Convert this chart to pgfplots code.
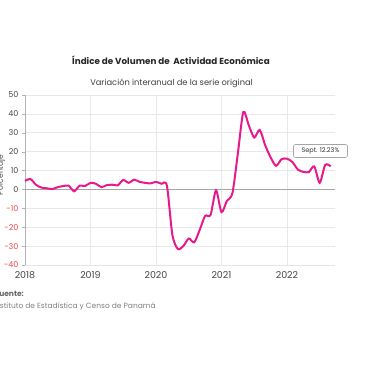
\documentclass[border=0pt]{standalone}
\usepackage{pgfplots}
\pgfplotsset{compat=1.18}
\usepackage{fontspec}
\setmainfont{Poppins}
\definecolor{linec}{RGB}{230,26,140}
\definecolor{negred}{RGB}{240,70,70}
\definecolor{tickc}{RGB}{70,70,70}
\begin{document}
\begin{tikzpicture}[x=1pt,y=1pt]
\begin{axis}[
  at={(25pt,115pt)}, anchor=south west,
  scale only axis, width=310pt, height=170pt,
  xmin=0, xmax=56.8, ymin=-40, ymax=50,
  axis lines*=left,
  x axis line style={draw=gray!20},
  y axis line style={draw=gray!60},
  xtick={0,12,24,36,48},
  xticklabels={2018,2019,2020,2021,2022},
  ytick={-40,-30,-20,-10,0,10,20,30,40,50},
  yticklabels={{\color{negred}-40},{\color{negred}-30},{\color{negred}-20},{\color{negred}-10},0,10,20,30,40,50},
  xmajorgrids, ymajorgrids,
  major grid style={draw=gray!18, line width=0.6pt},
  x tick style={draw=none},
  y tick style={draw=gray!60},
  tick align=outside, major tick length=3pt,
  xticklabel style={font=\fontsize{9.5}{10}\selectfont, text=tickc},
  yticklabel style={font=\fontsize{8}{9}\selectfont, text=tickc},
  clip=false,
]
\addplot[draw=gray!70, line width=0.7pt, forget plot] coordinates {(0,0) (56.8,0)};
\addplot[linec, line width=2pt, smooth, tension=0.45] table {
m v
0 4.5
1 5.5
2 2.5
3 1.0
4 0.6
5 0.2
6 1.2
7 1.8
8 2.0
9 -1.0
10 2.0
11 1.8
12 3.5
13 3.0
14 1.2
15 2.3
16 2.5
17 2.2
18 5.0
19 3.5
20 5.2
21 4.0
22 3.5
23 3.2
24 4.0
25 3.0
26 2.0
27 -24.0
28 -31.5
29 -30.0
30 -26.0
31 -28.0
32 -21.5
33 -14.0
34 -13.5
35 -0.5
36 -12.0
37 -6.0
38 -2.0
39 19.0
40 41.0
41 34.0
42 27.5
43 31.5
44 23.5
45 17.0
46 12.5
47 16.0
48 16.3
49 14.5
50 10.5
51 9.3
52 9.2
53 12.2
54 3.5
55 13.0
56 12.23
};
\end{axis}
\node[font=\bfseries\fontsize{8.8}{10}\selectfont, text=black!85] at (171,320) {Índice de Volumen de\ \ Actividad Económica};
\node[font=\fontsize{8.3}{10}\selectfont, text=black!75] at (171.5,297) {Variación interanual de la serie original};
\node[rotate=90, font=\fontsize{7.5}{8}\selectfont, text=tickc] at (1,205) {Porcentaje};
\node[draw=gray!70, fill=white, rounded corners=2pt, line width=0.6pt, font=\fontsize{6.5}{7}\selectfont, text=black!80, minimum width=54pt, minimum height=13pt, inner sep=1pt] at (320.5,229) {Sept. 12.23\%};
\node[anchor=west, font=\bfseries\fontsize{7.5}{8}\selectfont, text=gray!80!black, inner sep=0pt] at (-5,86) {Fuente:};
\node[anchor=west, font=\fontsize{7.5}{8}\selectfont, text=gray, inner sep=0pt] at (-7,73.5) {Instituto de Estadística y Censo de Panamá};
\pgfresetboundingbox
\path[use as bounding box] (0,0) rectangle (380,380);
\end{tikzpicture}
\end{document}
